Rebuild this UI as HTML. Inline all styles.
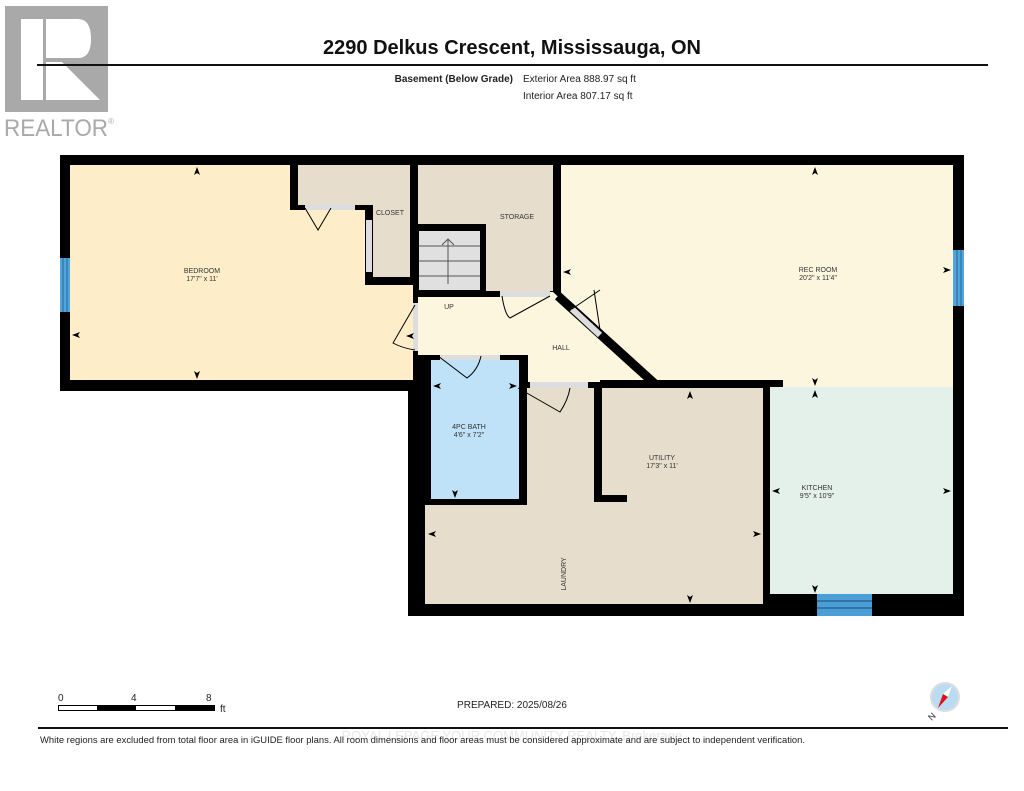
<!DOCTYPE html>
<html><head><meta charset="utf-8"><style>
html,body{margin:0;padding:0;background:#fff;}
body{width:1024px;height:791px;overflow:hidden;position:relative;font-family:"Liberation Sans",sans-serif;}
</style></head><body>
<svg width="1024" height="791" viewBox="0 0 1024 791" xmlns="http://www.w3.org/2000/svg" style="position:absolute;left:0;top:0" font-family="Liberation Sans, sans-serif">
<!-- Realtor logo -->
<rect x="5" y="6" width="103" height="106" fill="#a9a9a9"/>
<rect x="21" y="19" width="22" height="81" fill="#fff"/>
<path d="M46 19 H78 Q91 19 91 39 Q91 58 78 58 H46 Z" fill="#fff"/>
<path d="M46 62 L62 62 L100 100 L46 100 Z" fill="#fff"/>
<text x="4" y="136" font-size="24" fill="#a9a9a9" textLength="104" lengthAdjust="spacingAndGlyphs">REALTOR</text>
<text x="108" y="124" font-size="8" fill="#a9a9a9">®</text>
<!-- header -->
<text x="512" y="54" font-size="20" font-weight="bold" text-anchor="middle" fill="#111">2290 Delkus Crescent, Mississauga, ON</text>
<rect x="37" y="64" width="951" height="2" fill="#111"/>
<text x="513" y="82" font-size="10" font-weight="bold" text-anchor="end" fill="#222">Basement (Below Grade)</text>
<text x="523" y="82" font-size="10" fill="#222">Exterior Area 888.97 sq ft</text>
<text x="523" y="99" font-size="10" fill="#222">Interior Area 807.17 sq ft</text>

<!-- walls base -->
<path d="M60 155 H964 V616 H408 V391 H60 Z" fill="#000"/>
<path d="M70 165 H290 V210 H365 V285 H413 V380 H70 Z" fill="#fdeec9"/>
<path d="M298 165 H410 V277 H373 V205 H298 Z" fill="#e7ddcc"/>
<rect x="305" y="204" width="50" height="6" fill="#ddd"/>
<rect x="366" y="220" width="6" height="52" fill="#ddd"/>
<path d="M305 208 L318 230 L331 208" fill="none" stroke="#000" stroke-width="1"/>
<path d="M418 165 H553 V291 H486 V224 H418 Z" fill="#e7ddcc"/>
<rect x="419" y="231" width="61" height="59" fill="#e0e0e0"/>
<g stroke="#555" stroke-width="1"><line x1="419" y1="246" x2="480" y2="246"/><line x1="419" y1="261" x2="480" y2="261"/><line x1="419" y1="276" x2="480" y2="276"/><line x1="448" y1="240" x2="448" y2="284"/><path d="M442 245 L448 239 L454 245" fill="none"/></g>
<path d="M561 165 H953 V387 H655 L561 300 Z" fill="#fdf6df"/>
<path d="M418 297 H500 V292 H553 L650 382 H528 V355 H418 Z" fill="#fdf6df"/>
<line x1="558" y1="296" x2="655" y2="384" stroke="#000" stroke-width="9"/>
<line x1="572" y1="309" x2="600" y2="335" stroke="#ddd" stroke-width="6"/>
<rect x="600" y="380" width="183" height="8" fill="#000"/>
<rect x="431" y="360" width="88" height="139" fill="#bfe2f8"/>
<path d="M527 388 H763 V604 H425 V505 H527 Z" fill="#e7ddcc"/>
<rect x="594" y="388" width="8" height="112" fill="#000"/>
<rect x="594" y="495" width="33" height="7" fill="#000"/>
<rect x="770" y="387" width="183" height="207" fill="#e4f1ea"/>
<rect x="817" y="594" width="55" height="22" fill="#4a9fd6"/>
<line x1="817" y1="601" x2="872" y2="601" stroke="#1a4a70"/><line x1="817" y1="608" x2="872" y2="608" stroke="#1a4a70"/>
<rect x="60" y="258" width="10" height="54" fill="#4fa5dc"/>
<line x1="63" y1="258" x2="63" y2="312" stroke="#1a4a70" stroke-width="0.7"/><line x1="67" y1="258" x2="67" y2="312" stroke="#1a4a70" stroke-width="0.7"/>
<rect x="953" y="250" width="11" height="56" fill="#4fa5dc"/>
<line x1="957" y1="250" x2="957" y2="306" stroke="#1a4a70" stroke-width="0.7"/><line x1="961" y1="250" x2="961" y2="306" stroke="#1a4a70" stroke-width="0.7"/>
<rect x="413" y="303" width="5" height="48" fill="#ddd"/>
<rect x="500" y="291" width="50" height="6" fill="#ddd"/>
<rect x="440" y="355" width="60" height="5" fill="#ddd"/>
<rect x="530" y="382" width="58" height="6" fill="#ddd"/>
<g fill="none" stroke="#000" stroke-width="1">
<path d="M415 305 L393 343 Q402 348 415 350"/>
<path d="M502 296 Q505 315 510 318 L550 296"/>
<path d="M594 290 L600 330 M572 309 L600 290"/>
<path d="M438 356 L467 378 Q478 370 481 356"/>
<path d="M518 388 L560 412 Q568 400 570 388"/>
</g>
<!-- dimension arrows -->
<g fill="#000">
<path d="M197 167 l-3 8 l3 -2 l3 2z"/><path d="M197 379 l-3 -8 l3 2 l3 -2z"/><path d="M72 335 l8 -3 l-2 3 l2 3z"/>
<path d="M815 167 l-3 8 l3 -2 l3 2z"/><path d="M815 386 l-3 -8 l3 2 l3 -2z"/><path d="M563 272 l8 -3 l-2 3 l2 3z"/><path d="M951 270 l-8 -3 l2 3 l-2 3z"/>
<path d="M455 498 l-3 -8 l3 2 l3 -2z"/><path d="M433 386 l8 -3 l-2 3 l2 3z"/><path d="M517 386 l-8 -3 l2 3 l-2 3z"/>
<path d="M690 391 l-3 8 l3 -2 l3 2z"/><path d="M690 603 l-3 -8 l3 2 l3 -2z"/><path d="M428 534 l8 -3 l-2 3 l2 3z"/><path d="M761 534 l-8 -3 l2 3 l-2 3z"/>
<path d="M815 390 l-3 8 l3 -2 l3 2z"/><path d="M815 593 l-3 -8 l3 2 l3 -2z"/><path d="M772 491 l8 -3 l-2 3 l2 3z"/><path d="M951 491 l-8 -3 l2 3 l-2 3z"/>
<path d="M406 336 l8 -3 l-2 3 l2 3z"/>
</g>
<g font-size="7" fill="#333" text-anchor="middle">
<text x="202" y="273">BEDROOM</text><text x="202" y="281">17'7" x 11'</text>
<text x="390" y="215">CLOSET</text>
<text x="517" y="219">STORAGE</text>
<text x="449" y="309">UP</text>
<text x="561" y="350">HALL</text>
<text x="818" y="272">REC ROOM</text><text x="818" y="280">20'2" x 11'4"</text>
<text x="469" y="429">4PC BATH</text><text x="469" y="437">4'6" x 7'2"</text>
<text x="662" y="460">UTILITY</text><text x="662" y="468">17'3" x 11'</text>
<text x="817" y="490">KITCHEN</text><text x="817" y="498">9'5" x 10'9"</text>
<text transform="translate(566,574) rotate(-90)">LAUNDRY</text>
</g>
<g font-size="10" fill="#222">
<text x="58" y="701">0</text><text x="131" y="701">4</text><text x="206" y="701">8</text><text x="220" y="712">ft</text>
</g>
<rect x="58.5" y="705.5" width="156" height="5" fill="#fff" stroke="#000"/>
<rect x="97" y="705" width="39" height="6" fill="#000"/><rect x="175" y="705" width="40" height="6" fill="#000"/>
<text x="512" y="708" font-size="10" text-anchor="middle" fill="#222">PREPARED: 2025/08/26</text>
<!-- compass -->
<circle cx="945" cy="697" r="14" fill="#b9dcf2" stroke="#ddd" stroke-width="2"/>
<path d="M952 686 L948 697 L943 694 Z" fill="#fff"/>
<path d="M948 697 L943 694 L938 708 Z" fill="#e0101a"/>
<text x="928" y="720" font-size="9" fill="#333" transform="rotate(-45 931 716)">N</text>
<rect x="38" y="727" width="970" height="2" fill="#111"/>
<text x="512" y="740" font-size="13" text-anchor="middle" fill="#e8e8e8">ROYAL LEPAGE YOUR COMMUNITY REALTY, Brokerage</text>
<text x="40" y="743" font-size="9" fill="#222" textLength="765" lengthAdjust="spacingAndGlyphs">White regions are excluded from total floor area in iGUIDE floor plans. All room dimensions and floor areas must be considered approximate and are subject to independent verification.</text>
</svg>
</body></html>
